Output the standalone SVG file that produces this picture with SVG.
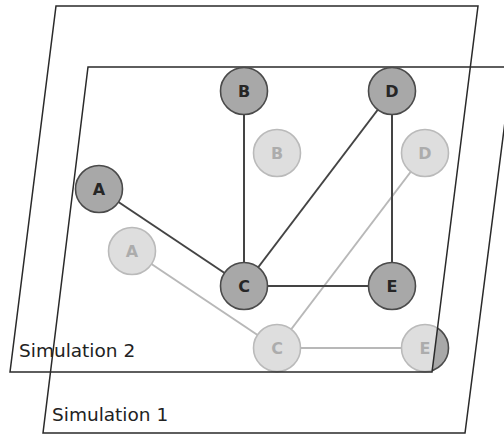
<svg xmlns="http://www.w3.org/2000/svg" width="504" height="435" viewBox="0 0 504 435">
<style>
.plane{fill:none;stroke:#2a2a2a;stroke-width:1.5}
.edge{stroke:#444;stroke-width:2;fill:none}
.node circle{fill:#a8a8a8;stroke:#4a4a4a;stroke-width:1.6}
.node text{font-family:"DejaVu Sans",sans-serif;font-weight:bold;font-size:16px;fill:#262626;text-anchor:middle}
.label{font-family:"DejaVu Sans",sans-serif;font-size:18.5px;fill:#222}
</style>
<rect width="504" height="435" fill="#fff"/>
<!-- Simulation 1 layer (behind) -->
<g id="sim1-layer">
<g id="connectors-sim1">
<line class="edge" x1="132" y1="251" x2="277" y2="348"/>
<line class="edge" x1="425" y1="153" x2="277" y2="348"/>
<line class="edge" x1="277" y1="348" x2="425" y2="348"/>
</g>
<g id="s1-A" class="node"><circle cx="132" cy="251" r="23.5"/><text x="132" y="257">A</text></g>
<g id="s1-B" class="node"><circle cx="277" cy="153" r="23.5"/><text x="277" y="159">B</text></g>
<g id="s1-D" class="node"><circle cx="425" cy="153" r="23.5"/><text x="425" y="159">D</text></g>
<g id="s1-C" class="node"><circle cx="277" cy="348" r="23.5"/><text x="277" y="354">C</text></g>
<g id="s1-E" class="node"><circle cx="425" cy="348" r="23.5"/><text x="425" y="354">E</text></g>
</g>
<!-- Simulation 2 plane, semi-transparent -->
<polygon id="sim2-plane-fill" points="56,6 478,6 432,372 10,372" fill="#fff" fill-opacity="0.62"/>
<polygon id="sim1-plane" class="plane" points="88,67 512,67 465,433 43,433" stroke="#3a3a3a" stroke-width="1.3"/>
<polygon id="sim2-plane" class="plane" points="56,6 478,6 432,372 10,372"/>
<!-- Simulation 2 layer -->
<g id="connectors-sim2">
<line class="edge" x1="99" y1="189" x2="244" y2="286"/>
<line class="edge" x1="244" y1="91" x2="244" y2="286"/>
<line class="edge" x1="392" y1="91" x2="244" y2="286"/>
<line class="edge" x1="392" y1="91" x2="392" y2="286"/>
<line class="edge" x1="244" y1="286" x2="392" y2="286"/>
</g>
<g id="s2-A" class="node"><circle cx="99" cy="189" r="23.5"/><text x="99" y="195">A</text></g>
<g id="s2-B" class="node"><circle cx="244" cy="91" r="23.5"/><text x="244" y="97">B</text></g>
<g id="s2-D" class="node"><circle cx="392" cy="91" r="23.5"/><text x="392" y="97">D</text></g>
<g id="s2-C" class="node"><circle cx="244" cy="286" r="23.5"/><text x="244" y="292">C</text></g>
<g id="s2-E" class="node"><circle cx="392" cy="286" r="23.5"/><text x="392" y="292">E</text></g>
<text class="label" x="19" y="357">Simulation 2</text>
<text class="label" x="52" y="421">Simulation 1</text>
</svg>
